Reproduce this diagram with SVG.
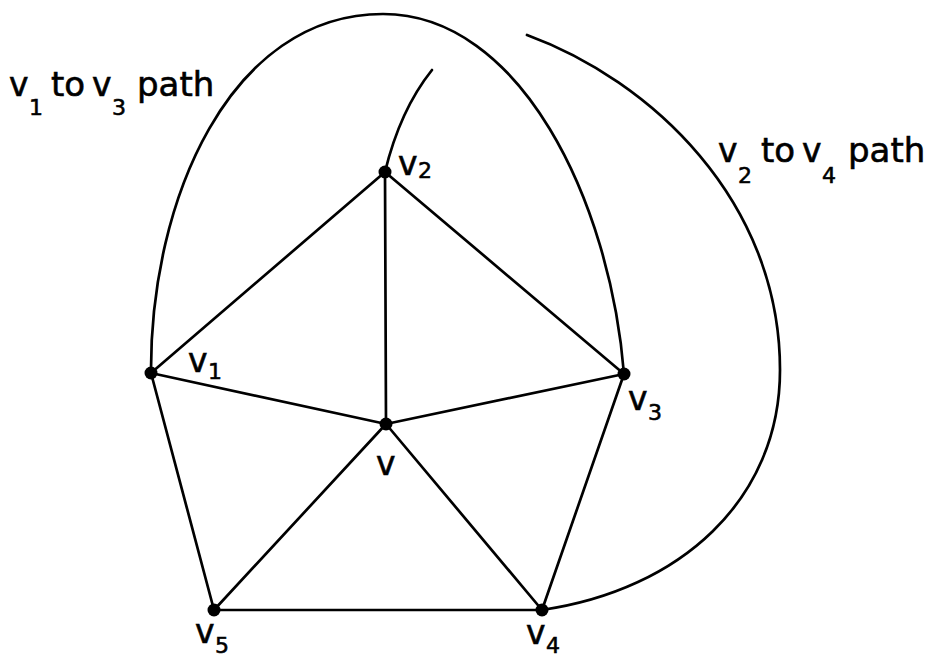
<svg xmlns="http://www.w3.org/2000/svg" width="926" height="657" viewBox="0 0 926 657">
<style>
.e{stroke:#000;stroke-width:2.7;fill:none;stroke-linecap:round}
.n{fill:#000}
.t{font-family:"DejaVu Sans",sans-serif;fill:#000;stroke:#000;stroke-width:0.6}
.m{font-size:33px}
.s{font-size:22px}
.p{font-size:34px}
</style>
<rect width="926" height="657" fill="#fff"/>
<g id="connectors">
<line class="e" x1="151" y1="373" x2="385" y2="172"/>
<line class="e" x1="385" y1="172" x2="624" y2="374"/>
<line class="e" x1="151" y1="373" x2="386" y2="424"/>
<line class="e" x1="385" y1="172" x2="386" y2="424"/>
<line class="e" x1="624" y1="374" x2="386" y2="424"/>
<line class="e" x1="151" y1="373" x2="214" y2="610"/>
<line class="e" x1="214" y1="610" x2="386" y2="424"/>
<line class="e" x1="386" y1="424" x2="542" y2="610"/>
<line class="e" x1="624" y1="374" x2="542" y2="610"/>
<line class="e" x1="214" y1="610" x2="542" y2="610"/>
<path class="e" d="M151,373 C150,200 230,14 383,14 C520,14 610,200 624,374"/>
<path class="e" d="M385,172 Q400,110 432,70"/>
<path class="e" d="M527,35 C650,80 780,200 780,370 C780,500 680,590 542,610"/>
</g>
<g id="v1"><circle class="n" cx="151" cy="373" r="6.5"/><text class="t"><tspan class="m" x="188" y="372">v</tspan><tspan class="s" x="208" y="379">1</tspan></text></g>
<g id="v2"><circle class="n" cx="385" cy="172" r="6.5"/><text class="t"><tspan class="m" x="398" y="175">v</tspan><tspan class="s" x="418" y="178">2</tspan></text></g>
<g id="v3"><circle class="n" cx="624" cy="374" r="6.5"/><text class="t"><tspan class="m" x="628" y="410">v</tspan><tspan class="s" x="648" y="420">3</tspan></text></g>
<g id="v4"><circle class="n" cx="542" cy="610" r="6.5"/><text class="t"><tspan class="m" x="526" y="644">v</tspan><tspan class="s" x="546" y="653">4</tspan></text></g>
<g id="v5"><circle class="n" cx="214" cy="610" r="6.5"/><text class="t"><tspan class="m" x="195" y="643">v</tspan><tspan class="s" x="215" y="653">5</tspan></text></g>
<g id="v"><circle class="n" cx="386" cy="424" r="6.5"/><text class="t"><tspan class="m" x="376" y="475">v</tspan></text></g>
<g id="label-v1-v3"><text class="t"><tspan class="m" x="9" y="96">v</tspan><tspan class="s" x="29" y="115">1</tspan><tspan class="p" x="51" y="96">to</tspan><tspan class="m" x="92" y="96">v</tspan><tspan class="s" x="112" y="115">3</tspan><tspan class="p" x="137" y="96">path</tspan></text></g>
<g id="label-v2-v4"><text class="t"><tspan class="m" x="718" y="162">v</tspan><tspan class="s" x="738" y="183">2</tspan><tspan class="p" x="761" y="162">to</tspan><tspan class="m" x="802" y="162">v</tspan><tspan class="s" x="822" y="183">4</tspan><tspan class="p" x="848" y="162">path</tspan></text></g>
</svg>
